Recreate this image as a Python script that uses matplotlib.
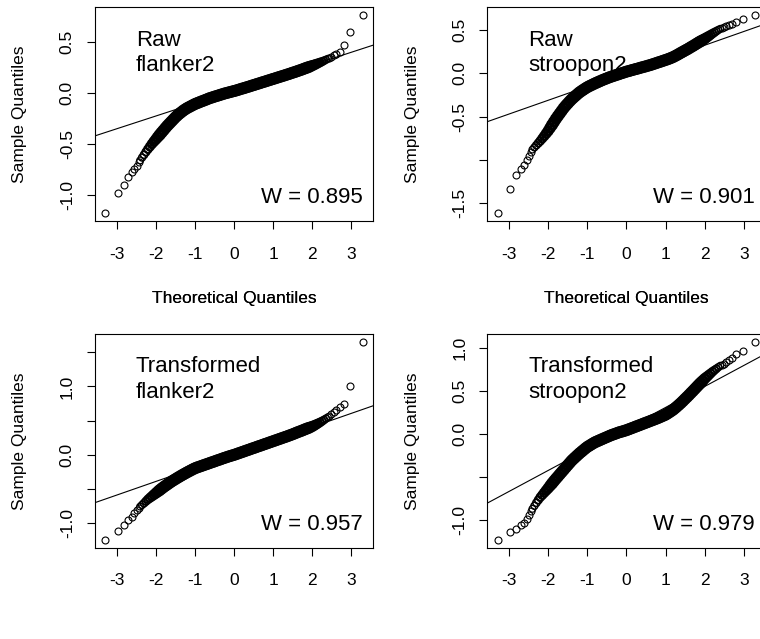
import numpy as np
import matplotlib
matplotlib.use("Agg")
import matplotlib.pyplot as plt

plt.rcParams["font.family"] = ["Liberation Sans", "DejaVu Sans"]
plt.rcParams["axes.unicode_minus"] = False

# ---------------- data ----------------
# theoretical quantiles of the extreme ranks (n = 1000)
tail_lo_x = [-3.29, -2.97, -2.81, -2.70, -2.62, -2.55, -2.49, -2.44]
tail_hi_x = [2.44, 2.49, 2.55, 2.62, 2.70, 2.81, 2.97, 3.29]
# theoretical quantiles of the dense central part
mid_x = [-2.40, -2.35, -2.30, -2.25, -2.20, -2.15, -2.10, -2.05, -2.00, -1.95,
         -1.90, -1.85, -1.80, -1.75, -1.70, -1.65, -1.60, -1.55, -1.50, -1.45,
         -1.40, -1.35, -1.30, -1.25, -1.20, -1.15, -1.10, -1.05, -1.00, -0.95,
         -0.90, -0.85, -0.80, -0.75, -0.70, -0.65, -0.60, -0.55, -0.50, -0.45,
         -0.40, -0.35, -0.30, -0.25, -0.20, -0.15, -0.10, -0.05, 0.00, 0.05,
         0.10, 0.15, 0.20, 0.25, 0.30, 0.35, 0.40, 0.45, 0.50, 0.55,
         0.60, 0.65, 0.70, 0.75, 0.80, 0.85, 0.90, 0.95, 1.00, 1.05,
         1.10, 1.15, 1.20, 1.25, 1.30, 1.35, 1.40, 1.45, 1.50, 1.55,
         1.60, 1.65, 1.70, 1.75, 1.80, 1.85, 1.90, 1.95, 2.00, 2.05,
         2.10, 2.15, 2.20, 2.25, 2.30, 2.35, 2.40]

# Raw flanker2 sample quantiles
raw_flanker2_lo = [-1.174, -0.974, -0.899, -0.818, -0.775, -0.740, -0.710, -0.680]
raw_flanker2_mid = [-0.660, -0.632, -0.605, -0.577, -0.550, -0.525, -0.500, -0.477, -0.455, -0.432,
                    -0.410, -0.387, -0.365, -0.342, -0.320, -0.300, -0.280, -0.260, -0.240, -0.222,
                    -0.205, -0.190, -0.175, -0.162, -0.150, -0.140, -0.130, -0.120, -0.110, -0.102,
                    -0.095, -0.087, -0.080, -0.072, -0.065, -0.057, -0.050, -0.044, -0.038, -0.032,
                    -0.026, -0.020, -0.014, -0.008, -0.003, 0.002, 0.007, 0.012, 0.017, 0.022,
                    0.028, 0.034, 0.040, 0.045, 0.051, 0.057, 0.063, 0.069, 0.075, 0.081,
                    0.087, 0.093, 0.099, 0.105, 0.111, 0.117, 0.123, 0.129, 0.135, 0.141,
                    0.147, 0.153, 0.159, 0.165, 0.171, 0.177, 0.183, 0.190, 0.196, 0.202,
                    0.209, 0.215, 0.222, 0.229, 0.236, 0.243, 0.250, 0.257, 0.265, 0.272,
                    0.280, 0.288, 0.296, 0.304, 0.313, 0.322, 0.332]
raw_flanker2_hi = [0.340, 0.350, 0.367, 0.380, 0.400, 0.470, 0.594, 0.757]

# Raw stroopon2 sample quantiles
raw_stroop2_lo = [-1.614, -1.336, -1.178, -1.105, -1.054, -0.997, -0.950, -0.910]
raw_stroop2_mid = [-0.880, -0.855, -0.830, -0.805, -0.780, -0.752, -0.724, -0.695, -0.665, -0.630,
                   -0.595, -0.560, -0.525, -0.493, -0.462, -0.431, -0.400, -0.373, -0.348, -0.323,
                   -0.300, -0.279, -0.259, -0.239, -0.220, -0.204, -0.189, -0.174, -0.160, -0.148,
                   -0.137, -0.126, -0.115, -0.105, -0.095, -0.085, -0.075, -0.066, -0.057, -0.048,
                   -0.040, -0.032, -0.025, -0.017, -0.010, -0.002, 0.005, 0.013, 0.020, 0.026,
                   0.032, 0.039, 0.045, 0.051, 0.057, 0.064, 0.070, 0.076, 0.082, 0.089,
                   0.095, 0.102, 0.110, 0.117, 0.125, 0.132, 0.140, 0.147, 0.155, 0.163,
                   0.171, 0.180, 0.190, 0.202, 0.214, 0.227, 0.240, 0.252, 0.265, 0.277,
                   0.290, 0.304, 0.317, 0.331, 0.345, 0.359, 0.372, 0.386, 0.400, 0.415,
                   0.430, 0.445, 0.460, 0.474, 0.488, 0.502, 0.515]
raw_stroop2_hi = [0.525, 0.535, 0.548, 0.560, 0.575, 0.594, 0.626, 0.672]

# Transformed flanker2 sample quantiles
tr_flanker2_lo = [-1.240, -1.110, -1.020, -0.950, -0.900, -0.850, -0.810, -0.780]
tr_flanker2_mid = [-0.755, -0.730, -0.705, -0.677, -0.650, -0.627, -0.605, -0.582, -0.560, -0.537,
                   -0.515, -0.492, -0.470, -0.450, -0.430, -0.410, -0.390, -0.372, -0.355, -0.337,
                   -0.320, -0.303, -0.287, -0.271, -0.255, -0.240, -0.225, -0.210, -0.196, -0.185,
                   -0.175, -0.165, -0.155, -0.145, -0.135, -0.125, -0.115, -0.105, -0.095, -0.085,
                   -0.075, -0.065, -0.055, -0.045, -0.035, -0.026, -0.017, -0.008, 0.000, 0.010,
                   0.020, 0.030, 0.040, 0.050, 0.060, 0.070, 0.080, 0.090, 0.100, 0.110,
                   0.120, 0.130, 0.140, 0.150, 0.160, 0.170, 0.180, 0.190, 0.200, 0.210,
                   0.220, 0.230, 0.240, 0.250, 0.260, 0.270, 0.280, 0.291, 0.302, 0.313,
                   0.325, 0.336, 0.347, 0.358, 0.370, 0.381, 0.392, 0.403, 0.415, 0.429,
                   0.444, 0.459, 0.475, 0.492, 0.510, 0.530, 0.550]
tr_flanker2_hi = [0.570, 0.600, 0.630, 0.660, 0.700, 0.750, 1.010, 1.650]

# Transformed stroopon2 sample quantiles
tr_stroop2_lo = [-1.230, -1.140, -1.100, -1.060, -1.030, -0.990, -0.940, -0.900]
tr_stroop2_mid = [-0.870, -0.835, -0.800, -0.767, -0.735, -0.709, -0.682, -0.656, -0.630, -0.602,
                  -0.575, -0.547, -0.520, -0.494, -0.467, -0.441, -0.415, -0.388, -0.362, -0.336,
                  -0.310, -0.288, -0.267, -0.246, -0.225, -0.206, -0.187, -0.168, -0.150, -0.136,
                  -0.122, -0.108, -0.095, -0.085, -0.075, -0.065, -0.055, -0.045, -0.035, -0.025,
                  -0.015, -0.007, 0.001, 0.010, 0.018, 0.025, 0.031, 0.038, 0.045, 0.054,
                  0.062, 0.071, 0.080, 0.089, 0.097, 0.106, 0.115, 0.124, 0.132, 0.141,
                  0.150, 0.159, 0.167, 0.176, 0.185, 0.195, 0.205, 0.215, 0.225, 0.239,
                  0.254, 0.269, 0.285, 0.304, 0.324, 0.344, 0.365, 0.387, 0.410, 0.432,
                  0.455, 0.479, 0.502, 0.526, 0.550, 0.574, 0.597, 0.621, 0.645, 0.665,
                  0.685, 0.705, 0.725, 0.743, 0.760, 0.778, 0.795]
tr_stroop2_hi = [0.805, 0.815, 0.835, 0.860, 0.890, 0.936, 0.965, 1.072]

panel_kind = ["Raw", "Raw", "Transformed", "Transformed"]
panel_task = ["flanker2", "stroopon2", "flanker2", "stroopon2"]
panel_W = ["0.895", "0.901", "0.957", "0.979"]
# qqline (through quartiles): intercept, slope
line_intercept = [0.022, 0.007, 0.0095, 0.065]
line_slope = [0.1245, 0.159, 0.199, 0.2444]

x_ticks = [-3, -2, -1, 0, 1, 2, 3]
x_ticklabels = ["-3", "-2", "-1", "0", "1", "2", "3"]
y_ticks = [[-1.0, -0.5, 0.0, 0.5],
           [-1.5, -1.0, -0.5, 0.0, 0.5],
           [-1.0, -0.5, 0.0, 0.5, 1.0, 1.5],
           [-1.0, -0.5, 0.0, 0.5, 1.0]]
y_ticklabels = [["-1.0", "-0.5", "0.0", "0.5"],
                ["-1.5", "", "-0.5", "0.0", "0.5"],
                ["-1.0", "", "0.0", "", "1.0", ""],
                ["-1.0", "", "0.0", "0.5", "1.0"]]

series = [(raw_flanker2_lo, raw_flanker2_mid, raw_flanker2_hi),
          (raw_stroop2_lo, raw_stroop2_mid, raw_stroop2_hi),
          (tr_flanker2_lo, tr_flanker2_mid, tr_flanker2_hi),
          (tr_stroop2_lo, tr_stroop2_mid, tr_stroop2_hi)]

# ---------------- figure ----------------
W, H = 760, 639
fig = plt.figure(figsize=(W / 100, H / 100), dpi=100)
# axes boxes in pixels: left, top, width, height
boxes = [(95, 7.3, 278, 213.7), (487.3, 7.3, 278.2, 213.7),
         (95, 334, 278, 213.7), (487.3, 334, 278.2, 213.7)]

# marker styling for the dense central run (heavily overlapping circles):
# outer size tapers towards the ends where the points thin out
mx = np.abs(np.array(mid_x))
taper = np.clip((mx - 1.9) / 0.5, 0, 1)
outer_px = 12.0 - 4.0 * taper
mid_lw = 2.2 - 1.3 * taper
mid_ms = outer_px * 0.72 - mid_lw
mid_s = mid_ms ** 2

for i in range(4):
    l, t, w, h = boxes[i]
    ax = fig.add_axes([l / W, 1 - (t + h) / H, w / W, h / H])
    lo, mid, hi = series[i]
    ax.scatter(mid_x, mid, s=mid_s, facecolors="none", edgecolors="black",
               linewidths=mid_lw, zorder=2)
    ax.plot(tail_lo_x + tail_hi_x, lo + hi, linestyle="none", marker="o",
            mfc="none", mec="black", ms=5.0, mew=0.8, zorder=2)
    ax.axline((0, line_intercept[i]), slope=line_slope[i], color="black",
              lw=0.8, zorder=1)

    xs = tail_lo_x + mid_x + tail_hi_x
    ys = lo + mid + hi
    xr = max(xs) - min(xs)
    yr = max(ys) - min(ys)
    ax.set_xlim(min(xs) - 0.04 * xr, max(xs) + 0.04 * xr)
    ax.set_ylim(min(ys) - 0.04 * yr, max(ys) + 0.04 * yr)

    ax.set_xticks(x_ticks)
    ax.set_xticklabels(x_ticklabels)
    ax.set_yticks(y_ticks[i])
    ax.set_yticklabels(y_ticklabels[i], rotation=90, va="center")
    ax.tick_params(axis="both", direction="out", length=5.5, width=0.8,
                   labelsize=12.5, colors="black")
    ax.tick_params(axis="x", pad=13)
    ax.tick_params(axis="y", pad=9)
    for s in ax.spines.values():
        s.set_linewidth(0.8)
        s.set_color("black")

    ax.set_xlabel("Theoretical Quantiles", fontsize=12.5)
    ax.xaxis.set_label_coords(0.5, -(298 - (t + h)) / h)
    ax.xaxis.label.set_verticalalignment("center")
    ax.set_ylabel("Sample Quantiles", fontsize=12.5)
    ax.yaxis.set_label_coords(-75 / w, 0.5)
    ax.yaxis.label.set_verticalalignment("center")

    ax.text(0.147, 0.82, panel_kind[i], transform=ax.transAxes, fontsize=16,
            ha="left", va="baseline")
    ax.text(0.147, 0.70, panel_task[i], transform=ax.transAxes, fontsize=16,
            ha="left", va="baseline")
    ax.text(0.962, 0.085, "W = " + panel_W[i], transform=ax.transAxes,
            fontsize=16, ha="right", va="baseline")

fig.savefig("out.png", dpi=100)
